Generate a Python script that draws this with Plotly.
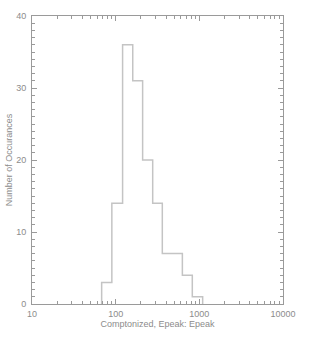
import plotly.graph_objects as go

# Histogram bin edges (keV) and counts
bin_edges = [68, 90, 121, 160, 210, 277, 361, 475, 627, 824, 1096]
counts = [3, 14, 36, 31, 20, 14, 7, 7, 4, 1]

x_tick_vals = [10, 100, 1000, 10000]
x_tick_text = ["10", "100", "1000", "10000"]
y_tick_vals = [0, 10, 20, 30, 40]

xs = [bin_edges[0]] + bin_edges
ys = [0] + counts + [0]

axis_color = "#9a9a9a"
text_color = "#8c8c8c"
font_family = "Liberation Sans, Arial, sans-serif"

fig = go.Figure()
fig.add_trace(go.Scatter(
    x=xs, y=ys, mode="lines", line_shape="hv",
    line=dict(color="#c4c4c4", width=1.5),
    showlegend=False, hoverinfo="skip",
))

fig.update_layout(
    width=315, height=338,
    margin=dict(l=32, r=32, t=16, b=34, autoexpand=False),
    paper_bgcolor="white", plot_bgcolor="white",
    font=dict(family=font_family, size=9, color=text_color),
    xaxis=dict(
        type="log", range=[1, 4], automargin=False,
        tickvals=x_tick_vals, ticktext=x_tick_text,
        ticks="inside", ticklen=5, tickwidth=1, tickcolor=axis_color,
        showline=True, linecolor=axis_color, linewidth=1, mirror="ticks",
        showgrid=False, zeroline=False,
        minor=dict(ticks="inside", ticklen=3, tickcolor=axis_color, dtick="D1", showgrid=False),
        title=dict(text="Comptonized, Epeak: Epeak", font=dict(size=9, color=text_color), standoff=0),
        tickfont=dict(size=9, color=text_color),
        ticklabelstandoff=1,
    ),
    yaxis=dict(
        range=[0, 40], automargin=False,
        tickvals=y_tick_vals,
        ticks="inside", ticklen=5, tickwidth=1, tickcolor=axis_color,
        showline=True, linecolor=axis_color, linewidth=1, mirror="ticks",
        showgrid=False, zeroline=False,
        minor=dict(ticks="inside", ticklen=3, tickcolor=axis_color, dtick=1, showgrid=False),
        title=dict(text="Number of Occurances", font=dict(size=9, color=text_color), standoff=2),
        tickfont=dict(size=9, color=text_color),
        ticklabelstandoff=3,
    ),
)

fig.write_html(
    "out.html",
    config={"displayModeBar": False, "staticPlot": True},
    post_script="document.body.style.margin='0';document.body.style.overflow='hidden';",
)
